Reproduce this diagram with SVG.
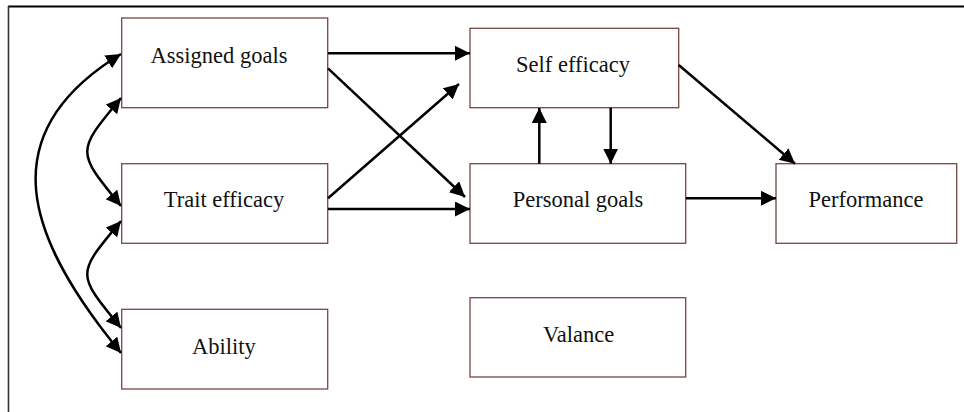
<svg xmlns="http://www.w3.org/2000/svg" width="964" height="412" viewBox="0 0 964 412">
<style>
.box{fill:#ffffff;stroke:#7a4545;stroke-width:1.3}
.lbl{font-family:"Liberation Serif","Times New Roman",serif;font-size:22.5px;fill:#111;text-anchor:middle}
.c{fill:none;stroke:#000;stroke-width:2.5}
</style>
<defs>
<marker id="ah" markerUnits="userSpaceOnUse" markerWidth="17" markerHeight="16" refX="15" refY="7.5" orient="auto-start-reverse" viewBox="0 0 17 16">
<path d="M0,0 L15,7.5 L0,15 z" fill="#000"/>
</marker>
</defs>
<rect width="964" height="412" fill="#fff"/>
<g id="frame">
<line x1="8" y1="6.5" x2="964" y2="6.5" stroke="#000" stroke-width="2"/>
<line x1="8.5" y1="6" x2="8.5" y2="412" stroke="#333" stroke-width="1.6"/>
</g>
<g id="assigned_goals"><rect class="box" x="121.7" y="18" width="206" height="89.7"/><text class="lbl" x="219" y="63">Assigned goals</text></g>
<g id="trait_efficacy"><rect class="box" x="121.7" y="163.7" width="206" height="79.6"/><text class="lbl" x="224" y="207">Trait efficacy</text></g>
<g id="ability"><rect class="box" x="121.7" y="309.3" width="206" height="79.7"/><text class="lbl" x="224" y="354">Ability</text></g>
<g id="self_efficacy"><rect class="box" x="470" y="28.3" width="208.7" height="79.4"/><text class="lbl" x="573" y="71.5">Self efficacy</text></g>
<g id="personal_goals"><rect class="box" x="470" y="163.7" width="215.7" height="79.6"/><text class="lbl" x="578" y="207">Personal goals</text></g>
<g id="performance"><rect class="box" x="776" y="163.7" width="180.7" height="79.6"/><text class="lbl" x="866" y="207.3">Performance</text></g>
<g id="valance"><rect class="box" x="470" y="297.7" width="215.7" height="79.3"/><text class="lbl" x="578.7" y="341.7">Valance</text></g>
<g id="connectors">
<path class="c" d="M328,53.3 L470,53.3" marker-end="url(#ah)"/>
<path class="c" d="M328,68.3 L465,197" marker-end="url(#ah)"/>
<path class="c" d="M328,198.3 L459,84" marker-end="url(#ah)"/>
<path class="c" d="M328,209 L470,209" marker-end="url(#ah)"/>
<path class="c" d="M539.3,163.7 L539.3,108" marker-end="url(#ah)"/>
<path class="c" d="M610.7,107.7 L610.7,163.7" marker-end="url(#ah)"/>
<path class="c" d="M678.7,65 L795,163.7" marker-end="url(#ah)"/>
<path class="c" d="M686,198.3 L776,198.3" marker-end="url(#ah)"/>
<path class="c" d="M121,98 C76,152 76,151 121,206" marker-start="url(#ah)" marker-end="url(#ah)"/>
<path class="c" d="M121,221 C76,275 76,273 121,328" marker-start="url(#ah)" marker-end="url(#ah)"/>
<path class="c" d="M121,54 C-12,135 28,240 121,353" marker-start="url(#ah)" marker-end="url(#ah)"/>
</g>
</svg>
